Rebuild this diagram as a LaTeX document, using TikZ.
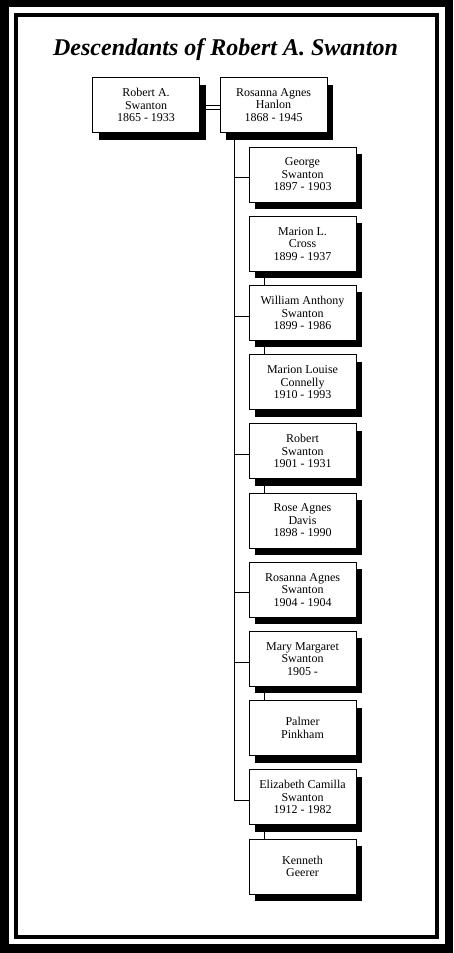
\documentclass[tikz,border=0pt]{standalone}
\usepackage{fontspec}
\setmainfont{Liberation Serif}
\usetikzlibrary{calc,shadows,backgrounds}
\tikzset{
	person/.style={draw, fill=white, line width=0.8pt, minimum width=107pt, minimum height=55pt, inner sep=0pt, align=center, font=\fontsize{12}{12.5}\selectfont, drop shadow={fill=black, opacity=1, shadow xshift=6pt, shadow yshift=-7pt}},
	wedlock/.style={double, double distance=2.6pt, line width=0.8pt},
	branch/.style={line width=0.8pt}
}

\begin{document}
\begin{tikzpicture}[x=1pt, y=-1pt]
		%%%%% START %%%%%
		\useasboundingbox (0, 0) rectangle (453, 953);
		
		\begin{scope}[on background layer]
		\fill[black] (0, 0) rectangle (453, 953);
		\fill[white] (8.5, 7) rectangle (445, 944);
		\draw[line width=4pt] (16, 15) rectangle (437, 937);
		\end{scope}
		
		\node[anchor=base, font=\fontsize{24}{28}\selectfont\bfseries\itshape] (title) at (225.5, 55) {Descendants of Robert A. Swanton};
		
		\node[person] (roberta) at (146, 105) {Robert A.\\Swanton\\1865 - 1933};
		\node[person] (hanlon) at (273.5, 105) {Rosanna Agnes\\Hanlon\\1868 - 1945};
		
		\node[person] (george) at (302.5, 174.5) {George\\Swanton\\1897 - 1903};
		\node[person] (marionl) at (302.5, 243.7) {Marion L.\\Cross\\1899 - 1937};
		\node[person] (william) at (302.5, 312.9) {William Anthony\\Swanton\\1899 - 1986};
		\node[person] (marionc) at (302.5, 382.1) {Marion Louise\\Connelly\\1910 - 1993};
		\node[person] (robert) at (302.5, 451.3) {Robert\\Swanton\\1901 - 1931};
		\node[person] (rose) at (302.5, 520.5) {Rose Agnes\\Davis\\1898 - 1990};
		\node[person] (rosanna) at (302.5, 589.7) {Rosanna Agnes\\Swanton\\1904 - 1904};
		\node[person] (mary) at (302.5, 658.9) {Mary Margaret\\Swanton\\1905 -};
		\node[person] (palmer) at (302.5, 728.1) {Palmer\\Pinkham};
		\node[person] (elizabeth) at (302.5, 797.3) {Elizabeth Camilla\\Swanton\\1912 - 1982};
		\node[person] (kenneth) at (302.5, 866.5) {Kenneth\\Geerer};
		
		\coordinate (trunktop) at ($(hanlon.south west)+(15, 0)$);
		
		\begin{scope}[on background layer]
		\draw[wedlock] ([yshift=-2.5pt]roberta.east) -- ([yshift=-2.5pt]hanlon.west);
		
		\draw[branch] (trunktop) |- ([yshift=-3pt]george.west);
		\draw[branch] (trunktop) |- ([yshift=-3pt]william.west);
		\draw[branch] (trunktop) |- ([yshift=-3pt]robert.west);
		\draw[branch] (trunktop) |- ([yshift=-3pt]rosanna.west);
		\draw[branch] (trunktop) |- ([yshift=-3pt]mary.west);
		\draw[branch] (trunktop) |- ([yshift=-3pt]elizabeth.west);
		
		\draw[wedlock] ([xshift=14pt]marionl.south west) -- ([xshift=14pt]william.north west);
		\draw[wedlock] ([xshift=14pt]william.south west) -- ([xshift=14pt]marionc.north west);
		\draw[wedlock] ([xshift=14pt]robert.south west) -- ([xshift=14pt]rose.north west);
		\draw[wedlock] ([xshift=14pt]mary.south west) -- ([xshift=14pt]palmer.north west);
		\draw[wedlock] ([xshift=14pt]elizabeth.south west) -- ([xshift=14pt]kenneth.north west);
		\end{scope}
		
		%%%%% END %%%%%
	\end{tikzpicture}
\end{document}
